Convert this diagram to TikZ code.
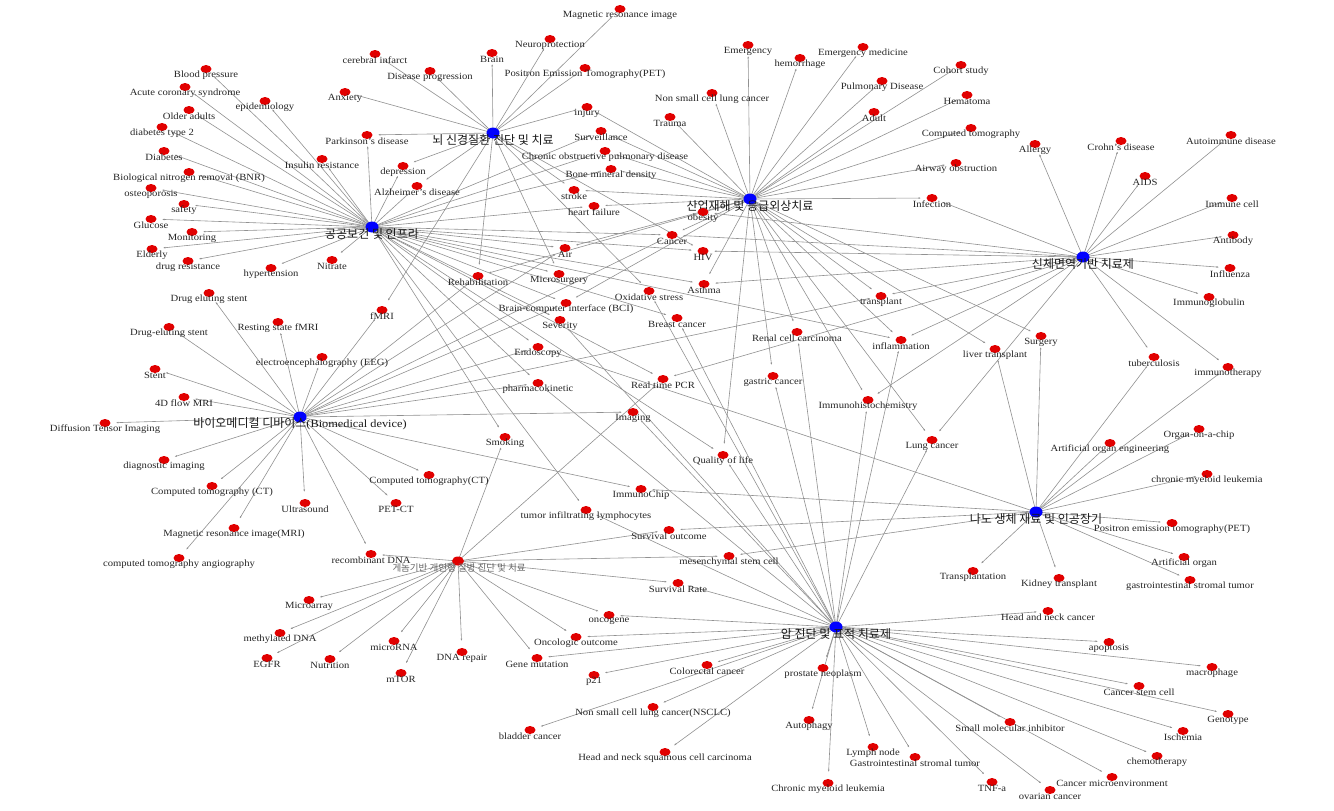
\documentclass[tikz,border=0pt]{standalone}
\usepackage{fontspec}
\usepackage{graphicx}
\setmainfont{Liberation Serif}
\newfontfamily\kor{Noto Sans CJK KR}
\usetikzlibrary{shapes.geometric,arrows.meta}
\pgfdeclarelayer{bg}
\pgfsetlayers{bg,main}
\definecolor{dotred}{RGB}{225,0,0}
\definecolor{dotblue}{RGB}{0,0,255}
\definecolor{edgegray}{RGB}{145,145,145}
\tikzset{
 leafdot/.style={ellipse, fill=dotred, inner sep=0, minimum width=11pt, minimum height=8pt},
 hubdot/.style={ellipse, fill=dotblue, inner sep=0, minimum width=13pt, minimum height=11pt},
 leaflbl/.style={inner sep=0, font=\fontsize{9.5}{10}\selectfont, text=black!85},
 hublbl/.style={inner sep=0, font=\kor\fontsize{12}{12}\selectfont, text=black!90},
 edge/.style={draw=edgegray, line width=0.6pt, shorten >=11pt, -{Latex[length=2.4pt,width=1.8pt]}},
}
\newcommand\leaf[4]{\node[leafdot] (#1) at (#2,#3) {}; \node[leaflbl] (#1-t) at (#2,#3+6.5) {\scalebox{1.12}[1]{#4}};}
\newcommand\hub[4]{\node[hubdot] (#1) at (#2,#3) {}; \node[hublbl] (#1-t) at (#2,#3+7) {#4};}
\begin{document}
\begin{tikzpicture}[x=1pt,y=-1pt]
\useasboundingbox (0,0) rectangle (1334,811);
% hubs
\hub{h1}{493}{133}{뇌 신경질환 진단 및 치료}
\hub{h2}{750}{199}{산업재해 및 응급외상치료}
\hub{h3}{372}{227}{공공보건 및 인프라}
\hub{h4}{1083}{257}{신체면역기반 치료제}
\hub{h5}{300}{417}{바이오메디컬 디바이스{\rmfamily\fontsize{11}{12}\selectfont\scalebox{1.12}[1]{(Biomedical device)}}}
\hub{h6}{1036}{512}{나노 생체 재료 및 인공장기}
\hub{h7}{836}{627}{암 진단 및 표적 치료제}
\node[leafdot, minimum width=12pt, minimum height=9pt] (h8) at (458,561) {};
\node[inner sep=0, font=\kor\fontsize{9.5}{10}\selectfont, text=black!60] (h8-t) at (459,568) {게놈기반 개인형 질병 진단 및 치료};
% H3 group
\leaf{bp}{206}{69}{Blood pressure}
\leaf{acs}{185}{87}{Acute coronary syndrome}
\leaf{epi}{265}{101}{epidemiology}
\leaf{older}{189}{110}{Older adults}
\leaf{dm2}{162}{127}{diabetes type 2}
\leaf{diab}{164}{151}{Diabetes}
\leaf{insr}{322}{159}{Insulin resistance}
\leaf{bnr}{189}{172}{Biological nitrogen removal (BNR)}
\leaf{osteo}{151}{188}{osteoporosis}
\leaf{safety}{184}{204}{safety}
\leaf{gluc}{151}{219}{Glucose}
\leaf{monit}{192}{232}{Monitoring}
\leaf{elder}{152}{249}{Elderly}
\leaf{drugres}{188}{261}{drug resistance}
\leaf{htn}{271}{268}{hypertension}
\leaf{nitrate}{332}{260}{Nitrate}
% H1 group
\leaf{cinf}{375}{54}{cerebral infarct}
\leaf{dprog}{430}{71}{Disease progression}
\leaf{anx}{345}{92}{Anxiety}
\leaf{brain}{492}{53}{Brain}
\leaf{neuro}{550}{39}{Neuroprotection}
\leaf{mri1}{620}{9}{Magnetic resonance image}
\leaf{pet1}{585}{68}{Positron Emission Tomography(PET)}
\leaf{park}{367}{135}{Parkinson's disease}
\leaf{depr}{403}{166}{depression}
\leaf{alz}{417}{186}{Alzheimer's disease}
\leaf{injury}{587}{107}{injury}
\leaf{surv}{601}{131}{Surveillance}
\leaf{copd}{605}{151}{Chronic obstructive pulmonary disease}
\leaf{bmd}{611}{169}{Bone mineral density}
\leaf{stroke}{574}{190}{stroke}
\leaf{hf}{594}{206}{heart failure}
% H2 group
\leaf{emerg}{748}{45}{Emergency}
\leaf{hem}{800}{58}{hemorrhage}
\leaf{emed}{863}{47}{Emergency medicine}
\leaf{pulm}{882}{81}{Pulmonary Disease}
\leaf{nsclc1}{712}{93}{Non small cell lung cancer}
\leaf{trauma}{670}{117}{Trauma}
\leaf{adult}{874}{112}{Adult}
\leaf{cohort}{961}{65}{Cohort study}
\leaf{hemat}{967}{95}{Hematoma}
\leaf{ct1}{971}{128}{Computed tomography}
\leaf{airway}{956}{163}{Airway obstruction}
\leaf{infect}{932}{198}{Infection}
\leaf{obes}{703}{212}{obesity}
% H4 group
\leaf{allergy}{1035}{144}{Allergy}
\leaf{crohn}{1121}{141}{Crohn's disease}
\leaf{autoimm}{1231}{135}{Autoimmune disease}
\leaf{aids}{1145}{176}{AIDS}
\leaf{immcell}{1232}{198}{Immune cell}
\leaf{antib}{1233}{235}{Antibody}
\leaf{flu}{1230}{268}{Influenza}
\leaf{iglob}{1209}{297}{Immunoglobulin}
\leaf{tb}{1154}{357}{tuberculosis}
\leaf{immth}{1228}{367}{immunotherapy}
\leaf{transpl}{881}{296}{transplant}
\leaf{infl}{901}{340}{inflammation}
\leaf{livtx}{995}{349}{liver transplant}
\leaf{surg}{1041}{336}{Surgery}
% centre
\leaf{cancer}{672}{235}{Cancer}
\leaf{air}{565}{248}{Air}
\leaf{hiv}{703}{251}{HIV}
\leaf{rehab}{478}{276}{Rehabilitation}
\leaf{micro}{559}{274}{Microsurgery}
\leaf{asthma}{704}{284}{Asthma}
\leaf{oxid}{649}{291}{Oxidative stress}
\leaf{bci}{566}{303}{Brain-computer interface (BCI)}
\leaf{sev}{560}{320}{Severity}
\leaf{breast}{677}{318}{Breast cancer}
\leaf{renal}{797}{332}{Renal cell carcinoma}
\leaf{endo}{538}{347}{Endoscopy}
\leaf{rtpcr}{663}{379}{Real time PCR}
\leaf{gastric}{773}{376}{gastric cancer}
\leaf{pk}{538}{383}{pharmacokinetic}
\leaf{ihc}{868}{400}{Immunohistochemistry}
\leaf{imaging}{633}{412}{Imaging}
\leaf{smoking}{505}{437}{Smoking}
\leaf{qol}{723}{455}{Quality of life}
\leaf{lungc}{932}{440}{Lung cancer}
\leaf{ichip}{641}{489}{ImmunoChip}
\leaf{til}{586}{510}{tumor infiltrating lymphocytes}
\leaf{survout}{669}{530}{Survival outcome}
\leaf{msc}{729}{556}{mesenchymal stem cell}
\leaf{survrate}{678}{583}{Survival Rate}
% H5 group
\leaf{des1}{209}{293}{Drug eluting stent}
\leaf{fmri}{382}{310}{fMRI}
\leaf{rsfmri}{278}{322}{Resting state fMRI}
\leaf{des2}{169}{327}{Drug-eluting stent}
\leaf{eeg}{322}{357}{electroencephalography (EEG)}
\leaf{stent}{155}{369}{Stent}
\leaf{flow}{184}{397}{4D flow MRI}
\leaf{dti}{105}{423}{Diffusion Tensor Imaging}
\leaf{diag}{164}{460}{diagnostic imaging}
\leaf{ctct}{212}{486}{Computed tomography (CT)}
\leaf{us}{305}{503}{Ultrasound}
\leaf{ct2}{429}{475}{Computed tomography(CT)}
\leaf{petct}{396}{503}{PET-CT}
\leaf{mri2}{234}{528}{Magnetic resonance image(MRI)}
\leaf{cta}{179}{558}{computed tomography angiography}
\leaf{rdna}{371}{554}{recombinant DNA}
% H8 group
\leaf{marray}{309}{600}{Microarray}
\leaf{mdna}{280}{633}{methylated DNA}
\leaf{egfr}{267}{658}{EGFR}
\leaf{nutr}{330}{659}{Nutrition}
\leaf{mirna}{394}{641}{microRNA}
\leaf{mtor}{401}{673}{mTOR}
\leaf{dnarep}{462}{652}{DNA repair}
\leaf{genemut}{537}{658}{Gene mutation}
\leaf{oncout}{576}{637}{Oncologic outcome}
\leaf{oncog}{609}{615}{oncogene}
% H6 group
\leaf{ooc}{1199}{429}{Organ-on-a-chip}
\leaf{aoe}{1110}{443}{Artificial organ engineering}
\leaf{cml2}{1207}{474}{chronic myeloid leukemia}
\leaf{pet2}{1172}{523}{Positron emission tomography(PET)}
\leaf{aorg}{1184}{557}{Artificial organ}
\leaf{gist2}{1190}{580}{gastrointestinal stromal tumor}
\leaf{txp}{973}{571}{Transplantation}
\leaf{kidney}{1059}{578}{Kidney transplant}
% H7 group
\leaf{hnc}{1048}{611}{Head and neck cancer}
\leaf{apop}{1109}{642}{apoptosis}
\leaf{macro}{1212}{667}{macrophage}
\leaf{csc}{1139}{686}{Cancer stem cell}
\leaf{geno}{1228}{714}{Genotype}
\leaf{smi}{1010}{722}{Small molecular inhibitor}
\leaf{isch}{1183}{731}{Ischemia}
\leaf{chemo}{1157}{756}{chemotherapy}
\leaf{cme}{1112}{777}{Cancer microenvironment}
\leaf{tnf}{992}{782}{TNF-a}
\leaf{ovar}{1050}{790}{ovarian cancer}
\leaf{gist1}{915}{757}{Gastrointestinal stromal tumor}
\leaf{lymph}{873}{747}{Lymph node}
\leaf{cml1}{828}{783}{Chronic myeloid leukemia}
\leaf{autoph}{809}{720}{Autophagy}
\leaf{prost}{823}{668}{prostate neoplasm}
\leaf{crc}{707}{665}{Colorectal cancer}
\leaf{nsclc2}{653}{707}{Non small cell lung cancer(NSCLC)}
\leaf{bladder}{530}{730}{bladder cancer}
\leaf{hnscc}{665}{752}{Head and neck squamous cell carcinoma}
\leaf{p21}{594}{675}{p21}
% edges
\begin{pgfonlayer}{bg}
\fill[white] (0,0) rectangle (1334,811);
\foreach \t in {cinf,dprog,anx,brain,neuro,mri1,pet1,park,depr,alz,injury,stroke,fmri,rehab,micro,oxid,hiv}
  \draw[edge] (h1.center) -- (\t.center);
\foreach \t in {emerg,hem,emed,pulm,nsclc1,trauma,adult,cohort,hemat,ct1,airway,infect,obes,injury,surv,copd,bmd,stroke,hf,air,rehab,bci,asthma,cancer,renal,gastric,ihc,qol,lungc,livtx,surg,infl,transpl}
  \draw[edge] (h2.center) -- (\t.center);
\foreach \t in {bp,acs,epi,older,dm2,diab,insr,bnr,osteo,safety,gluc,monit,elder,drugres,htn,nitrate,park,depr,alz,surv,copd,bmd,hf,air,cancer,hiv,asthma,micro,bci,sev,endo,pk,breast,smoking,til,qol,infl,rtpcr}
  \draw[edge] (h3.center) -- (\t.center);
\foreach \t in {allergy,crohn,autoimm,aids,immcell,antib,flu,iglob,tb,immth,infect,transpl,infl,lungc,rtpcr,hiv,asthma,obes,cancer,ihc}
  \draw[edge] (h4.center) -- (\t.center);
\foreach \t in {des1,rsfmri,des2,eeg,stent,flow,dti,diag,ctct,us,ct2,petct,mri2,cta,rdna,fmri,imaging,ichip,rehab,air,bci,endo,pk,transpl,cancer}
  \draw[edge] (h5.center) -- (\t.center);
\foreach \t in {ooc,aoe,cml2,pet2,aorg,gist2,txp,kidney,tb,immth,surg,livtx,ichip,survout,msc,endo}
  \draw[edge] (h6.center) -- (\t.center);
\foreach \t in {hnc,apop,macro,csc,geno,smi,isch,chemo,cme,tnf,ovar,gist1,lymph,cml1,autoph,prost,crc,nsclc2,bladder,hnscc,p21,genemut,oncout,oncog,survrate,lungc,renal,gastric,ihc,qol,imaging,oxid,breast,sev,til,pk,infl}
  \draw[edge] (h7.center) -- (\t.center);
\foreach \t in {rdna,marray,mdna,egfr,nutr,mirna,mtor,dnarep,genemut,oncout,oncog,survrate,msc,survout,smoking,rtpcr}
  \draw[edge] (h8.center) -- (\t.center);
\end{pgfonlayer}
\end{tikzpicture}
\end{document}
